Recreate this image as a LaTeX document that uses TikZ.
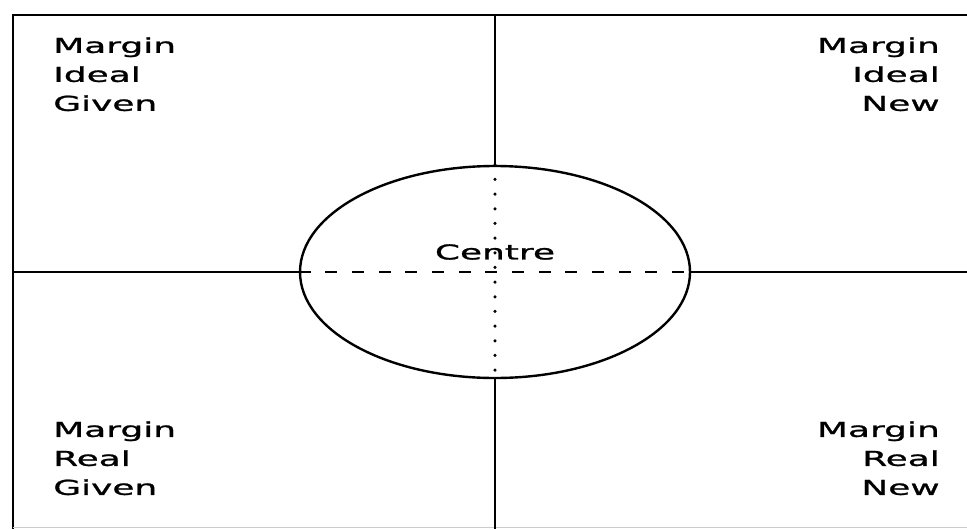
\documentclass[tikz,border=0pt]{standalone}
\usepackage{fontspec}
\newfontfamily\quadfont[FakeStretch=1.75, FakeBold=1.2]{DejaVu Sans}
\usetikzlibrary{shapes.geometric}

\tikzset{
  quad/.style={inner sep=0pt, font=\quadfont\fontsize{15.4}{21.75}\selectfont},
  axis/.style={line width=2pt},
}

\begin{document}
\begin{tikzpicture}[x=0.75pt,y=-0.75pt]
\useasboundingbox (0,0) rectangle (967,529);
% frame, open on the right
\draw[axis] (967,15) -- (13,15) -- (13,529);
\draw[line width=0.6pt, black!20] (13,527) -- (967,527);

\node[ellipse, draw, line width=1.8pt, minimum width=292.5pt, minimum height=159pt, inner sep=0pt] (centre) at (495,272) {};
\node[quad] (centrelbl) at (495,252) {Centre};

\coordinate (top) at (495,15);
\coordinate (bottom) at (495,529);
\coordinate (left) at (13,272);
\coordinate (right) at (967,272);

\draw[axis] (top) -- (centre.north);
\draw[line width=2.6pt, line cap=round, dash pattern=on 0pt off 11pt] (centre.north) -- (centre.south);
\draw[axis] (centre.south) -- (bottom);
\draw[line width=1.5pt] (left) -- (centre.west);
\draw[line width=1.5pt, dash pattern=on 9pt off 11pt] (centre.west) -- (centre.east);
\draw[line width=1.5pt] (centre.east) -- (right);

% the four quadrants
\node[quad, anchor=north west, align=left] (idealgiven) at (53,37) {Margin\\Ideal\\Given};
\node[quad, anchor=north east, align=right] (idealnew) at (940,37) {Margin\\Ideal\\New};
\node[quad, anchor=north west, align=left] (realgiven) at (53,421) {Margin\\Real\\Given};
\node[quad, anchor=north east, align=right] (realnew) at (940,421) {Margin\\Real\\New};
\end{tikzpicture}
\end{document}
